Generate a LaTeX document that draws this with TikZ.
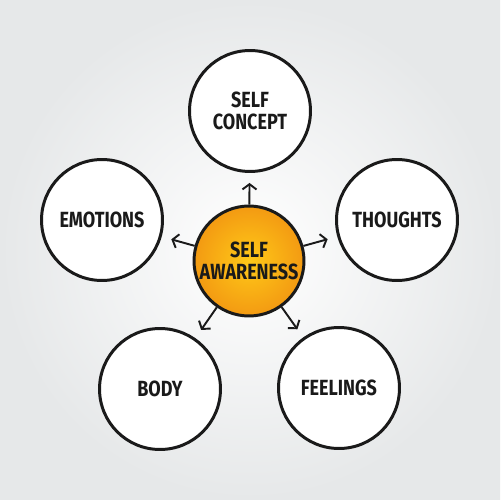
\documentclass[tikz,border=0pt]{standalone}
\usepackage{fontspec}
\setmainfont[FakeStretch=0.82]{Fira Sans}
\usetikzlibrary{arrows.meta}
\definecolor{ink}{HTML}{1A1A1A}
\definecolor{sunin}{HTML}{FFC918}
\definecolor{sunout}{HTML}{F39A12}
\definecolor{bgedge}{HTML}{E6E8E9}
\tikzset{
  topic/.style={circle, draw=ink, line width=1.7pt, fill=white, minimum size=2.42cm,
    inner sep=0pt, align=center, text=ink, font=\bfseries\fontsize{12.5}{12.5}\selectfont},
  hub/.style={circle, draw=ink, line width=1.7pt, minimum size=2.2cm, inner sep=0pt,
    align=center, text=ink, font=\bfseries\fontsize{12.5}{12.5}\selectfont,
    inner color=sunin, outer color=sunout},
  link/.style={-{Straight Barb[length=3pt,width=8pt]}, line width=1.1pt, draw=ink,
    shorten >=0.2cm}
}
\begin{document}
\begin{tikzpicture}[x=0.02cm, y=-0.02cm]
    \useasboundingbox (0,0) rectangle (500,500);
    \shade[inner color=white, outer color=bgedge] (0,0) rectangle (500,500);
    \node[hub] (aware) at (249,261) {SELF\\AWARENESS};
    \node[topic] (concept) at (250,111) {SELF\\CONCEPT};
    \node[topic] (emotions) at (102,220) {EMOTIONS};
    \node[topic] (thoughts) at (397,220) {THOUGHTS};
    \node[topic] (body) at (160,389) {BODY};
    \node[topic] (feelings) at (339,388) {FEELINGS};
    \foreach \Target in {concept, emotions, thoughts, body, feelings}{\draw[link] (aware) -- (\Target);}
\end{tikzpicture}
\end{document}
